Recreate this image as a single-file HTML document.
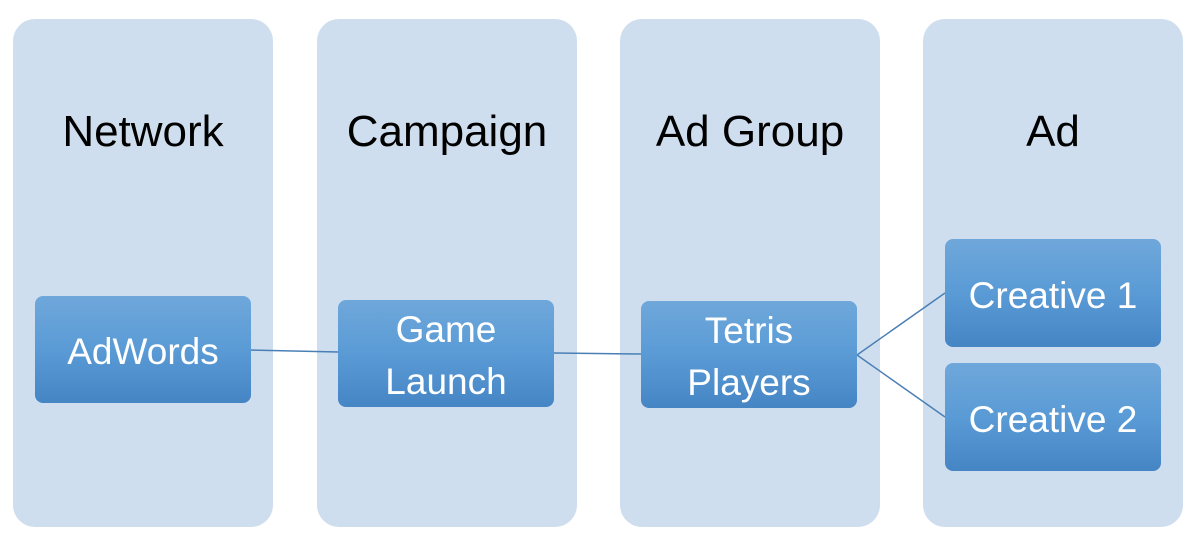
<!DOCTYPE html>
<html><head><style>
body{margin:0;width:1202px;height:552px;background:#fff;position:relative;overflow:hidden;font-family:"Liberation Sans",sans-serif}
.col{position:absolute;top:19px;width:260px;height:508px;background:#cfdeee;border-radius:22px}
.t{position:absolute;left:0;width:100%;top:88px;text-align:center;font-size:44px;color:#000}
.b{position:absolute;width:216px;height:108px;border-radius:8px;background:linear-gradient(#6fa7da,#5a9bd6 50%,#4585c4);color:#fff;font-size:37px;display:flex;align-items:center;justify-content:center;text-align:center;line-height:52px;box-sizing:border-box;padding-top:5px}
svg{position:absolute;left:0;top:0}
</style></head><body>
<div class="col" style="left:13px"><div class="t">Network</div></div>
<div class="col" style="left:317px"><div class="t">Campaign</div></div>
<div class="col" style="left:620px"><div class="t">Ad Group</div></div>
<div class="col" style="left:923px"><div class="t">Ad</div></div>
<svg width="1202" height="552"><g stroke="#4a7fb5" stroke-width="1.5" fill="none">
<line x1="251" y1="350" x2="338" y2="352"/>
<line x1="554" y1="353" x2="641" y2="354"/>
<line x1="857" y1="355" x2="945" y2="293"/>
<line x1="857" y1="355" x2="945" y2="417"/>
</g></svg>
<div class="b" style="left:35px;top:296px;height:107px">AdWords</div>
<div class="b" style="left:338px;top:300px;height:107px">Game<br>Launch</div>
<div class="b" style="left:641px;top:301px;height:107px">Tetris<br>Players</div>
<div class="b" style="left:945px;top:239px">Creative 1</div>
<div class="b" style="left:945px;top:363px">Creative 2</div>
</body></html>
